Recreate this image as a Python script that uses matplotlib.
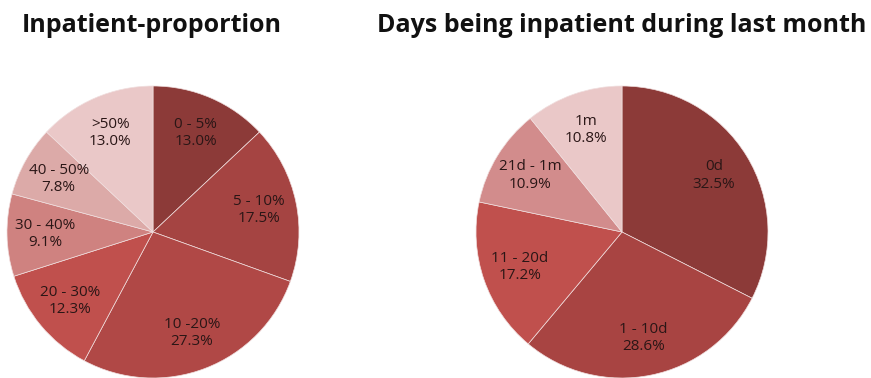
import matplotlib
matplotlib.use("Agg")
import matplotlib.pyplot as plt

# Inpatient proportion
prop_labels = ["0 - 5%", "5 - 10%", "10 -20%", "20 - 30%", "30 - 40%", "40 - 50%", ">50%"]
prop_values = [13.0, 17.5, 27.3, 12.3, 9.1, 7.8, 13.0]
prop_colors = ["#8c3a38", "#a54442", "#b04846", "#c0504d", "#cf8280", "#dcaaa8", "#eac8c8"]

# Days being inpatient during last month
days_labels = ["0d", "1 - 10d", "11 - 20d", "21d - 1m", "1m"]
days_values = [32.5, 28.6, 17.2, 10.9, 10.8]
days_colors = ["#8c3a38", "#a84442", "#c0504d", "#d28c8c", "#eac8c8"]

W, H = 871, 378
fig = plt.figure(figsize=(W / 100, H / 100), dpi=100)
fig.patch.set_facecolor("white")

R = 146  # pie radius in pixels


def pie_axes(cx, cy):
    return fig.add_axes([(cx - R) / W, (H - cy - R) / H, 2 * R / W, 2 * R / H])


def draw(ax, values, labels, colors):
    texts = [f"{l}\n{v:.1f}%" for l, v in zip(labels, values)]
    ax.pie(values, labels=texts, colors=colors, startangle=90, counterclock=False,
           labeldistance=0.74, radius=1.0,
           wedgeprops=dict(linewidth=0.5, edgecolor="#f0dede"),
           textprops=dict(ha="center", va="center", fontsize=11,
                          family="Open Sans", color="#2a1616", linespacing=1.2))
    for t in ax.texts:
        t.set_horizontalalignment("center")
    ax.set_xlim(-1, 1)
    ax.set_ylim(-1, 1)
    ax.axis("off")


ax1 = pie_axes(153, 232)
draw(ax1, prop_values, prop_labels, prop_colors)
ax2 = pie_axes(622, 232)
draw(ax2, days_values, days_labels, days_colors)

fig.text(152 / W, 1 - 25 / H, "Inpatient-proportion", ha="center", va="center",
         fontsize=18, fontweight="bold", family="Open Sans", color="#111111")
fig.text(622 / W, 1 - 25 / H, "Days being inpatient during last month", ha="center",
         va="center", fontsize=18, fontweight="bold", family="Open Sans", color="#111111")

fig.savefig("out.png", dpi=100, facecolor="white")
